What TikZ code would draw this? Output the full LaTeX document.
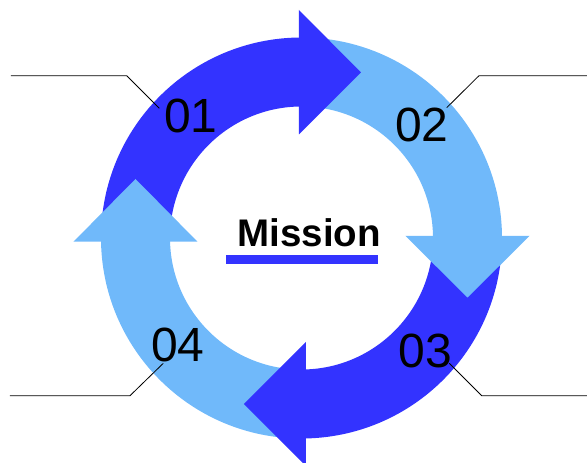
\documentclass[tikz,border=0pt]{standalone}
\usepackage{fontspec}
\setmainfont{Liberation Sans}
\definecolor{darkblue}{RGB}{51,51,255}
\definecolor{lightblue}{RGB}{112,185,250}

\begin{document}
\begin{tikzpicture}[x=1pt,y=1pt,
                    num/.style={font=\fontsize{48}{48}\selectfont,inner sep=0pt},
                    leader/.style={black,line width=0.8pt}]
  \useasboundingbox (-301.5,-225) rectangle (285.5,238);

  % ring quarters
  \fill[darkblue] (180:200.5) arc[start angle=180,end angle=90,radius=200.5]
    -- (90:131.5) arc[start angle=90,end angle=180,radius=131.5] -- cycle;
  \fill[lightblue] (90:200.5) arc[start angle=90,end angle=0,radius=200.5]
    -- (0:131.5) arc[start angle=0,end angle=90,radius=131.5] -- cycle;
  \fill[darkblue] (0:200.5) arc[start angle=0,end angle=-90,radius=200.5]
    -- (-90:131.5) arc[start angle=-90,end angle=0,radius=131.5] -- cycle;
  \fill[lightblue] (-90:200.5) arc[start angle=-90,end angle=-180,radius=200.5]
    -- (-180:131.5) arc[start angle=-180,end angle=-90,radius=131.5] -- cycle;

  % heads
  \fill[darkblue] (-2.5,228) -- (59.5,165.5) -- (-2.5,103.5) -- cycle;
  \fill[lightblue] (104,2) -- (228,2) -- (166,-59.5) -- cycle;
  \fill[darkblue] (4.5,-104) -- (-57.5,-166) -- (4.5,-228) -- cycle;
  \fill[lightblue] (-228,-3.7) -- (-104,-3.7) -- (-166,59) -- cycle;

  \node[num] (n01) at (-110.5,122) {01};
  \node[num] (n02) at (120.2,113) {02};
  \node[num] (n03) at (124,-113) {03};
  \node[num] (n04) at (-123.5,-106.5) {04};

  \node[font=\fontsize{38.5}{40}\selectfont\bfseries,anchor=base,inner sep=0pt]
    (mission) at (7.7,-8.7) {Mission};
  \fill[darkblue] (-75.5,-17) rectangle (76.5,-26.3);

  % leaders
  \coordinate (p01) at (-142.2,129.7);
  \coordinate (k01) at (-174.8,162.3);
  \coordinate (e01) at (-290.5,162.3);
  \coordinate (p02) at (145.2,130.3);
  \coordinate (k02) at (177.5,162.3);
  \coordinate (e02) at (285.5,162.3);
  \coordinate (p03) at (147.8,-125.3);
  \coordinate (k03) at (180.2,-157.7);
  \coordinate (e03) at (285.5,-157.7);
  \coordinate (p04) at (-138.2,-125.3);
  \coordinate (k04) at (-171.5,-157.7);
  \coordinate (e04) at (-291.5,-157.7);
  \draw[leader] (p01) -- (k01) -- (e01);
  \draw[leader] (p02) -- (k02) -- (e02);
  \draw[leader] (p03) -- (k03) -- (e03);
  \draw[leader] (p04) -- (k04) -- (e04);
\end{tikzpicture}
\end{document}
